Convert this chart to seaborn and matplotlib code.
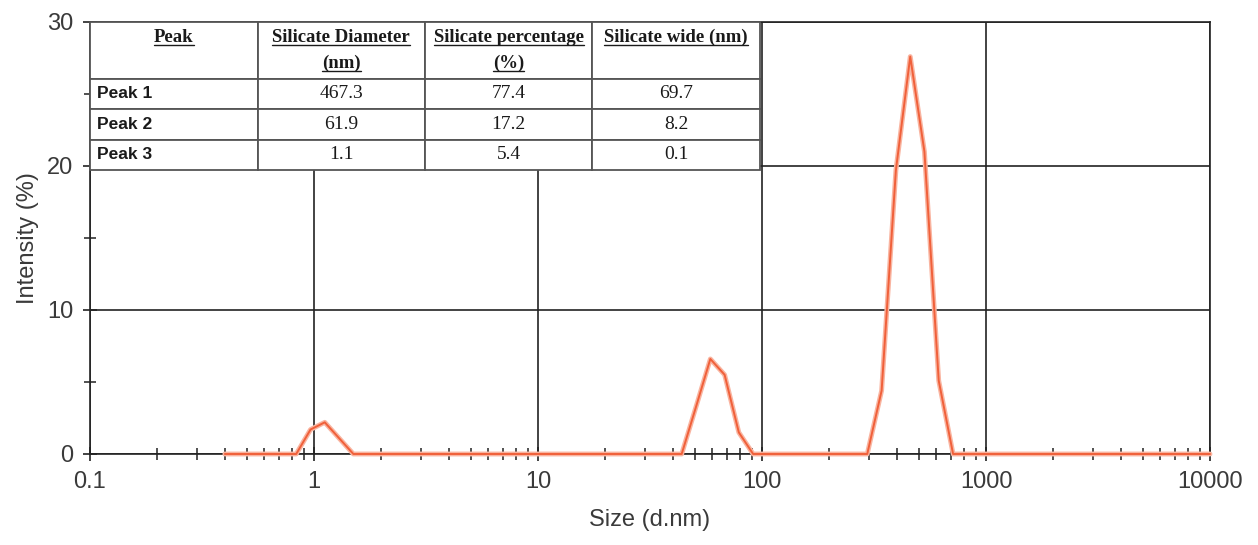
import matplotlib
matplotlib.use("Agg")
import matplotlib.pyplot as plt
import seaborn as sns
import numpy as np
import pandas as pd
from matplotlib.ticker import LogLocator, MultipleLocator, NullFormatter
from matplotlib.lines import Line2D

# size distribution by intensity
size_nm = [0.4, 0.833, 0.965, 1.117, 1.499, 43.8, 50.8, 58.8, 68.1, 78.8, 91.3,
           295, 342, 396, 459, 531, 615, 713, 10000]
intensity = [0, 0, 1.7, 2.2, 0, 0, 3.3, 6.6, 5.5, 1.5, 0,
             0, 4.4, 19.7, 27.6, 21.0, 5.1, 0, 0]

x_ticks = [0.1, 1, 10, 100, 1000, 10000]
x_labels = ["0.1", "1", "10", "100", "1000", "10000"]
y_ticks = [0, 10, 20, 30]

# peak table
table_header = [["Peak"], ["Silicate Diameter", "(nm)"],
                ["Silicate percentage", "(%)"], ["Silicate wide (nm)"]]
peak_names = ["Peak 1", "Peak 2", "Peak 3"]
peak_diameter = ["467.3", "61.9", "1.1"]
peak_percent = ["77.4", "17.2", "5.4"]
peak_wide = ["69.7", "8.2", "0.1"]

df = pd.DataFrame({"size": size_nm, "intensity": intensity})

sns.set_style("ticks")
plt.rcParams["font.family"] = ["Liberation Sans", "DejaVu Sans"]

fig = plt.figure(figsize=(12.58, 5.45), dpi=100)
ax = fig.add_axes([90 / 1258, 1 - 454 / 545, 1120 / 1258, 432 / 545])

# light halo + main line
sns.lineplot(data=df, x="size", y="intensity", ax=ax, color="#f9b4a0",
             lw=3.5, sort=False, estimator=None, zorder=3, clip_on=False)
sns.lineplot(data=df, x="size", y="intensity", ax=ax, color="#f0603a",
             lw=1.4, sort=False, estimator=None, zorder=4, clip_on=False)

ax.set_xscale("log")
ax.set_xlim(0.1, 10000)
ax.set_ylim(0, 30)
ax.set_xticks(x_ticks, x_labels)
ax.set_yticks(y_ticks)
ax.xaxis.set_minor_locator(LogLocator(base=10, subs=np.arange(2, 10)))
ax.xaxis.set_minor_formatter(NullFormatter())
ax.yaxis.set_minor_locator(MultipleLocator(5))

ax.grid(which="major", color="#222222", lw=1.2)
ax.set_axisbelow(True)
for sp in ax.spines.values():
    sp.set_color("#222222")
    sp.set_linewidth(1.2)

ax.tick_params(which="both", bottom=True, left=True, top=False, right=False)
ax.tick_params(which="major", direction="inout", length=10, width=1.2,
               color="#222222", labelsize=17, labelcolor="#3a3a3a", pad=7)
ax.tick_params(which="minor", direction="inout", length=8, width=1.1,
               color="#222222")
ax.set_xlabel("Size (d.nm)", fontsize=17, color="#3a3a3a", labelpad=12)
ax.set_ylabel("Intensity (%)", fontsize=17, color="#3a3a3a", labelpad=6)

# table in the upper left
tw = 670 / 1120
th = 148 / 432
cells = [["", "", "", ""]]
for i in range(3):
    cells.append([peak_names[i], peak_diameter[i], peak_percent[i], peak_wide[i]])
tab = ax.table(cellText=cells, cellLoc="center", bbox=[0, 1 - th, tw, th])
tab.auto_set_font_size(False)
tab.set_zorder(6)
for (r, c), cell in tab.get_celld().items():
    cell.set_edgecolor("#555555")
    cell.set_linewidth(1.3)
    cell.set_facecolor("white")
    cell.set_height(56 if r == 0 else 30)
    if r > 0 and c == 0:
        cell.PAD = 0.04
        cell.set_text_props(ha="left", fontfamily="Liberation Sans",
                            fontweight="bold", fontsize=12.5, color="#1a1a1a")
    elif r > 0:
        cell.set_text_props(fontfamily="Liberation Serif", fontsize=14,
                            color="#1a1a1a")

col_w = tw / 4
head_texts = []
for c, lines in enumerate(table_header):
    for k, line in enumerate(lines):
        ty = 1 - (15 + 26 * k) / 432
        t = ax.text(col_w * (c + 0.5), ty, line, transform=ax.transAxes,
                    ha="center", va="center", fontsize=13.5, fontweight="bold",
                    fontfamily="Liberation Serif", color="#1a1a1a", zorder=7)
        head_texts.append(t)

# underline header lines
fig.canvas.draw()
renderer = fig.canvas.get_renderer()
inv = ax.transAxes.inverted()
for t in head_texts:
    bb = t.get_window_extent(renderer)
    (x0, y0), (x1, y1) = inv.transform([(bb.x0, bb.y0 + 1), (bb.x1, bb.y0 + 1)])
    ax.add_line(Line2D([x0, x1], [y0, y1], transform=ax.transAxes,
                       color="#1a1a1a", lw=1.0, zorder=7))

fig.savefig("out.png", dpi=100)
